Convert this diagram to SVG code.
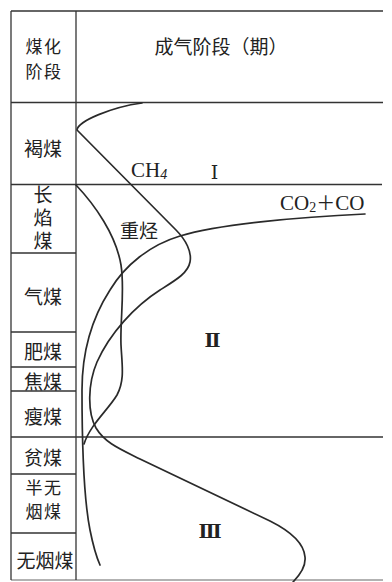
<svg xmlns="http://www.w3.org/2000/svg" width="392" height="582" viewBox="0 0 392 582">
<style>
.grid{stroke:#333;stroke-width:1.3;fill:none}
.curve{stroke:#2a2a2a;stroke-width:1.7;fill:none;stroke-linecap:round;stroke-linejoin:round}
.zh{font-family:"Noto Sans CJK SC","Noto Sans",sans-serif;font-size:19px;fill:#222;text-anchor:middle;dominant-baseline:central}
.zh2{font-size:17px;letter-spacing:1.5px}
.lat{font-family:"Liberation Serif","DejaVu Serif",serif;font-size:21px;fill:#222}
.rom{font-family:"DejaVu Serif","Liberation Serif",serif;font-size:19px;fill:#222;text-anchor:middle}
</style>
<rect width="392" height="582" fill="#fff"/>
<g id="grid" class="grid">
<line x1="11" y1="11" x2="383" y2="11"/>
<line x1="11" y1="102.5" x2="383" y2="102.5"/>
<line x1="11" y1="184.5" x2="382" y2="184.5"/>
<line x1="11" y1="437" x2="383" y2="437"/>
<line x1="11" y1="580" x2="383" y2="580" stroke-opacity="0.5"/>
<line x1="11" y1="11" x2="11" y2="580"/>
<line x1="76" y1="11" x2="76" y2="580"/>
<line x1="11" y1="253" x2="76" y2="253"/>
<line x1="11" y1="332" x2="76" y2="332"/>
<line x1="11" y1="367" x2="76" y2="367"/>
<line x1="11" y1="391" x2="76" y2="391"/>
<line x1="11" y1="474" x2="76" y2="474"/>
<line x1="11" y1="533" x2="76" y2="533"/>
</g>
<g id="stages">
<text class="zh zh2" x="44" y="45.7">煤化</text>
<text class="zh zh2" x="44" y="70.4">阶段</text>
<text class="zh" x="43" y="147">褐煤</text>
<text class="zh" x="43" y="185" writing-mode="tb" style="text-anchor:start;letter-spacing:4px">长焰煤</text>
<text class="zh" x="43" y="295">气煤</text>
<text class="zh" x="43" y="350">肥煤</text>
<text class="zh" x="43" y="380">焦煤</text>
<text class="zh" x="43" y="415">瘦煤</text>
<text class="zh" x="43" y="456">贫煤</text>
<text class="zh zh2" x="44" y="486.2">半无</text>
<text class="zh zh2" x="44" y="510.9">烟煤</text>
<text class="zh" x="45" y="559">无烟煤</text>
</g>
<g id="header">
<text class="zh" x="221" y="45">成气阶段（期）</text>
</g>
<g id="connectors">
<path id="ch4" class="curve" d="M142,103 C112,107 78,121 77,130 L176,230 C186,240 192,252 190,262 C188,273 176,280 160,290 C135,306 110,333 97,362 C88,383 87,412 96,428 C105,443 120,449 140,459 L270,521 C290,531 304,543 305,557 C306,566 300,575 293,582"/>
<path id="heavy" class="curve" d="M76,185 C95,205 116,235 121,265 C125,290 120,320 121,345 C122,365 125,380 117,395 C108,410 90,425 84,444"/>
<path id="co2" class="curve" d="M365,214 C300,217 220,224 180,236 C150,245 125,265 110,290 C92,318 82,350 82,390 C82,440 84,500 90,530 C93,545 96,556 100,565"/>
</g>
<g id="labels">
<text class="lat" x="131" y="177">CH<tspan font-size="14" font-style="italic" dy="2">4</tspan></text>
<text class="zh" x="139" y="229">重烃</text>
<text class="lat" x="280" y="210">CO<tspan font-size="14" dy="2">2</tspan><tspan dy="-2" font-family="Noto Sans CJK SC" font-size="19">＋</tspan>CO</text>
<text class="rom" x="214.5" y="179">Ⅰ</text>
<text class="rom" x="212.5" y="347" font-weight="bold">Ⅱ</text>
<text class="rom" x="210" y="538" font-weight="bold">Ⅲ</text>
</g>
</svg>
